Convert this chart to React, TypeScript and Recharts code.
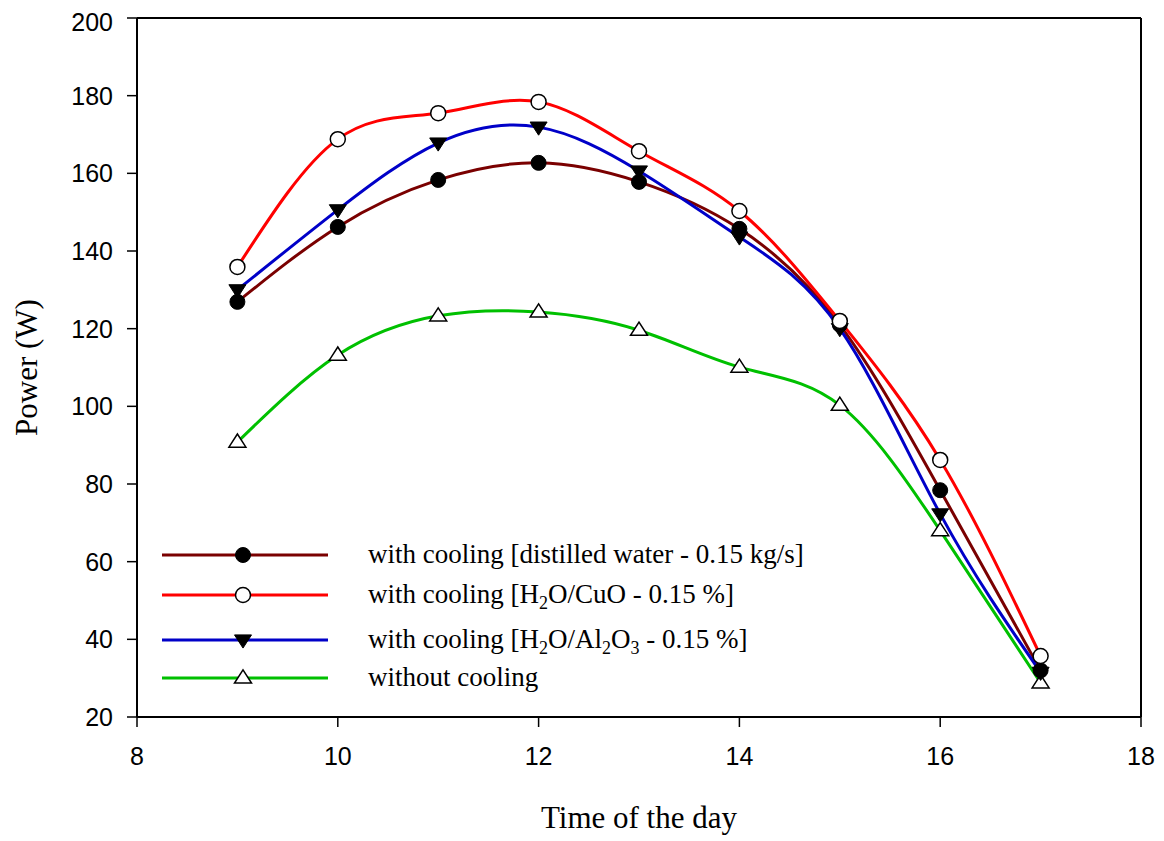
import React from "react";
import { LineChart, Line, XAxis, YAxis, ReferenceLine, Label } from "recharts";

const hours = [9, 10, 11, 12, 13, 14, 15, 16, 17];
const distilled = [126.9, 146.2, 158.3, 162.7, 157.8, 145.7, 121, 78.4, 32];
const cuo = [135.9, 168.8, 175.5, 178.4, 165.7, 150.3, 122, 86.2, 35.7];
const al2o3 = [130, 150.6, 167.8, 171.9, 160.6, 143.6, 120, 72.3, 31.5];
const without = [90.8, 113.2, 123.3, 124.3, 119.6, 110.1, 100.3, 68, 28.8];
const xTicks = [8, 10, 12, 14, 16, 18];
const yTicks = [20, 40, 60, 80, 100, 120, 140, 160, 180, 200];

const data = hours.map((h, i) => ({
  h,
  distilled: distilled[i],
  cuo: cuo[i],
  al2o3: al2o3[i],
  without: without[i],
}));

type Shape = "circleFilled" | "circleOpen" | "triDown" | "triUp";

function MarkerShape({ shape, cx, cy }: { shape: Shape; cx: number; cy: number }) {
  if (shape === "circleFilled") return <circle cx={cx} cy={cy} r={7.5} fill="#000" stroke="#000" strokeWidth={1} />;
  if (shape === "circleOpen") return <circle cx={cx} cy={cy} r={7.5} fill="#fff" stroke="#000" strokeWidth={1.5} />;
  const s = 8.5;
  if (shape === "triDown")
    return <polygon points={`${cx - s},${cy - s * 0.6} ${cx + s},${cy - s * 0.6} ${cx},${cy + s * 0.95}`} fill="#000" stroke="#000" strokeWidth={1} />;
  return <polygon points={`${cx - s},${cy + s * 0.6} ${cx + s},${cy + s * 0.6} ${cx},${cy - s * 0.95}`} fill="#fff" stroke="#000" strokeWidth={1.5} />;
}

const makeDot = (shape: Shape) => (props: any) => (
  <MarkerShape key={`${shape}-${props.index}`} shape={shape} cx={props.cx} cy={props.cy} />
);

const subStyle: React.CSSProperties = { fontSize: 18, verticalAlign: "-6px", lineHeight: 0 };

const legendItems: { color: string; shape: Shape; label: React.ReactNode }[] = [
  { color: "#7a0000", shape: "circleFilled", label: <>with cooling [distilled water - 0.15 kg/s]</> },
  { color: "#ff0000", shape: "circleOpen", label: <>with cooling [H<span style={subStyle}>2</span>O/CuO - 0.15 %]</> },
  { color: "#0000c8", shape: "triDown", label: <>with cooling [H<span style={subStyle}>2</span>O/Al<span style={subStyle}>2</span>O<span style={subStyle}>3</span> - 0.15 %]</> },
  { color: "#00c000", shape: "triUp", label: <>without cooling</> },
];
const rowCenters = [555, 595, 640, 678];

const LegendBox = () => (
  <div style={{ position: "absolute", left: 0, top: 0, width: 0, height: 0 }}>
    {legendItems.map((it, i) => (
      <div key={i} style={{ position: "absolute", left: 154, top: rowCenters[i] - 8 - 12 }}>
        <svg width={170} height={24} style={{ display: "block", position: "absolute", left: 0, top: 0 }}>
          <line x1={0} y1={12} x2={166} y2={12} stroke={it.color} strokeWidth={3} />
          <MarkerShape shape={it.shape} cx={81} cy={12} />
        </svg>
        <span style={{ position: "absolute", left: 206, top: -5, whiteSpace: "nowrap", fontFamily: "'Liberation Serif', 'Times New Roman', serif", fontSize: 27, color: "#000", lineHeight: "32px" }}>
          {it.label}
        </span>
      </div>
    ))}
  </div>
);

const tickStyle = { fill: "#000", fontSize: 25, fontFamily: "'Liberation Sans', Arial, sans-serif" };

export default function App() {
  return (
    <div style={{ position: "relative", width: 1156, height: 833, background: "#fff" }}>
      <LineChart width={1156} height={833} data={data} margin={{ top: 10, right: 23, left: 69, bottom: 64 }}>
        <XAxis
          dataKey="h"
          type="number"
          domain={[8, 18]}
          ticks={xTicks}
          allowDataOverflow
          tick={tickStyle}
          tickSize={10}
          tickMargin={20}
          height={60}
          stroke="#000"
          axisLine={{ stroke: "#000", strokeWidth: 2 }}
          tickLine={{ stroke: "#000", strokeWidth: 1.5 }}
        >
          <Label
            value="Time of the day"
            position="bottom"
            offset={29}
            style={{ fill: "#000", fontSize: 31, fontFamily: "'Liberation Serif', 'Times New Roman', serif" }}
          />
        </XAxis>
        <YAxis
          type="number"
          domain={[20, 200]}
          ticks={yTicks}
          allowDataOverflow
          tick={tickStyle}
          tickSize={10}
          tickMargin={14}
          width={60}
          stroke="#000"
          axisLine={{ stroke: "#000", strokeWidth: 2 }}
          tickLine={{ stroke: "#000", strokeWidth: 1.5 }}
        >
          <Label
            value="Power (W)"
            angle={-90}
            position="left"
            offset={51}
            style={{ textAnchor: "middle", fill: "#000", fontSize: 31, fontFamily: "'Liberation Serif', 'Times New Roman', serif" }}
          />
        </YAxis>
        <ReferenceLine y={200} stroke="#000" strokeWidth={2} />
        <ReferenceLine x={18} stroke="#000" strokeWidth={2} />
        <Line type="natural" dataKey="without" stroke="#00c000" strokeWidth={3} dot={makeDot("triUp")} isAnimationActive={false} />
        <Line type="natural" dataKey="distilled" stroke="#7a0000" strokeWidth={3} dot={makeDot("circleFilled")} isAnimationActive={false} />
        <Line type="natural" dataKey="al2o3" stroke="#0000c8" strokeWidth={3} dot={makeDot("triDown")} isAnimationActive={false} />
        <Line type="natural" dataKey="cuo" stroke="#ff0000" strokeWidth={3} dot={makeDot("circleOpen")} isAnimationActive={false} />
      </LineChart>
      <LegendBox />
    </div>
  );
}
